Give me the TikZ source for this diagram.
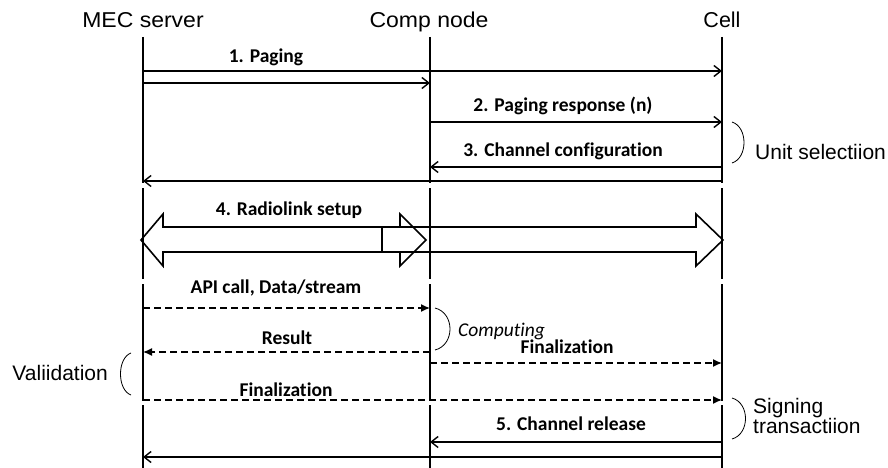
\documentclass[tikz,border=0pt]{standalone}
\usepackage{fontspec}
\setmainfont{Liberation Sans}
\newfontfamily\lblfont[Ligatures={NoCommon}]{Carlito}
\usetikzlibrary{arrows.meta}
\begin{document}
\begin{tikzpicture}[x=1pt,y=-1pt,
 hdr/.style={font=\fontsize{21.5}{24}\selectfont, inner sep=0pt, anchor=base},
 side/.style={font=\fontsize{21}{24}\selectfont, inner sep=0pt},
 lbl/.style={font=\lblfont\bfseries\fontsize{19.5}{22}\selectfont, inner sep=0pt, anchor=base},
 life/.style={line width=1.6pt},
 msg/.style={line width=1.6pt, -{Straight Barb[length=7pt,width=11pt,line width=1.4pt]}},
 dmsg/.style={line width=1.4pt, dash pattern=on 7pt off 4pt, -{Latex[length=9pt,width=8pt]}},
 brace/.style={line width=0.8pt},
 big/.style={line width=1.6pt, line join=miter}
]
\useasboundingbox (0,0) rectangle (888,468);

% headers
\node[hdr] (mec) at (143,28) {\scalebox{1.07}[1]{MEC server}};
\node[hdr] (comp) at (429,28) {\scalebox{1.07}[1]{Comp node}};
\node[hdr] (cell) at (722,28) {Cell};

% lifeline anchors
\coordinate (mecL) at (143,37);
\coordinate (compL) at (430,37);
\coordinate (cellL) at (722,37);

% lifelines (with the small breaks of the original)
\foreach \l in {mecL,compL,cellL}{
  \draw[life] (\l) -- (\l |- 0,183);
  \draw[life] (\l |- 0,188) -- (\l |- 0,279);
  \draw[life] (\l |- 0,284) -- (\l |- 0,401);
  \draw[life] (\l |- 0,405) -- (\l |- 0,468);
}

% 1. Paging
\node[lbl] (l1) at (266,63) {1. Paging};
\draw[msg] (mecL |- 0,71) -- (cellL |- 0,71);
\draw[msg] (mecL |- 0,83) -- (compL |- 0,83);

% 2. Paging response
\node[lbl] (l2) at (563,112) {2. Paging response (n)};
\draw[msg] (compL |- 0,122) -- (cellL |- 0,122);

% 3. Channel configuration
\node[lbl] (l3) at (563,156) {3. Channel configuration};
\draw[msg] (cellL |- 0,167) -- (compL |- 0,167);
\draw[msg] (cellL |- 0,181) -- (mecL |- 0,181);

% Unit selection brace
\draw[brace] (732,122) .. controls (748,127) and (748,158) .. (732,163);
\node[side, anchor=base west] (us) at (755,159) {Unit selectiion};

% 4. Radiolink setup
\node[lbl] (l4) at (289,215) {4. Radiolink setup};
\draw[big] (141,240) -- (163,214) -- (163,227) -- (400,227) -- (400,214) -- (426,240)
  -- (400,266) -- (400,252) -- (163,252) -- (163,266) -- cycle;
\draw[big] (382,227) -- (696,227) -- (696,214) -- (723,240) -- (696,266) -- (696,252)
  -- (382,252) -- cycle;

% API call
\node[lbl] (l5) at (276,293) {API call, Data/stream};
\draw[dmsg] (mecL |- 0,308) -- (compL |- 0,308);

% Computing brace
\draw[brace] (435,308) .. controls (455,313) and (455,345) .. (435,350);
\node[font=\lblfont\itshape\fontsize{19.5}{22}\selectfont, inner sep=0pt, anchor=base west] (cmp) at (458,336) {Computing};

% Result
\node[lbl] (l6) at (287,344) {Result};
\draw[dmsg] (compL |- 0,352) -- (mecL |- 0,352);

% Finalization (comp -> cell)
\node[lbl] (l7) at (567,353) {Finalization};
\draw[dmsg] (compL |- 0,363) -- (cellL |- 0,363);

% Validation brace
\draw[brace] (131,353) .. controls (117,358) and (117,390) .. (131,395);
\node[side, anchor=base east] (val) at (108,380) {Valiidation};

% Finalization (mec -> cell)
\node[lbl] (l8) at (286,396) {Finalization};
\draw[dmsg] (mecL |- 0,400) -- (cellL |- 0,400);

% Signing transaction brace
\draw[brace] (732,398) .. controls (750,403) and (750,434) .. (732,439);
\node[side, anchor=base west] (sg1) at (753,413) {Signing};
\node[side, anchor=base west] (sg2) at (753,433) {transactiion};

% 5. Channel release
\node[lbl] (l9) at (571,430) {5. Channel release};
\draw[msg] (cellL |- 0,442) -- (compL |- 0,442);
\draw[msg] (cellL |- 0,457) -- (mecL |- 0,457);
\end{tikzpicture}
\end{document}
